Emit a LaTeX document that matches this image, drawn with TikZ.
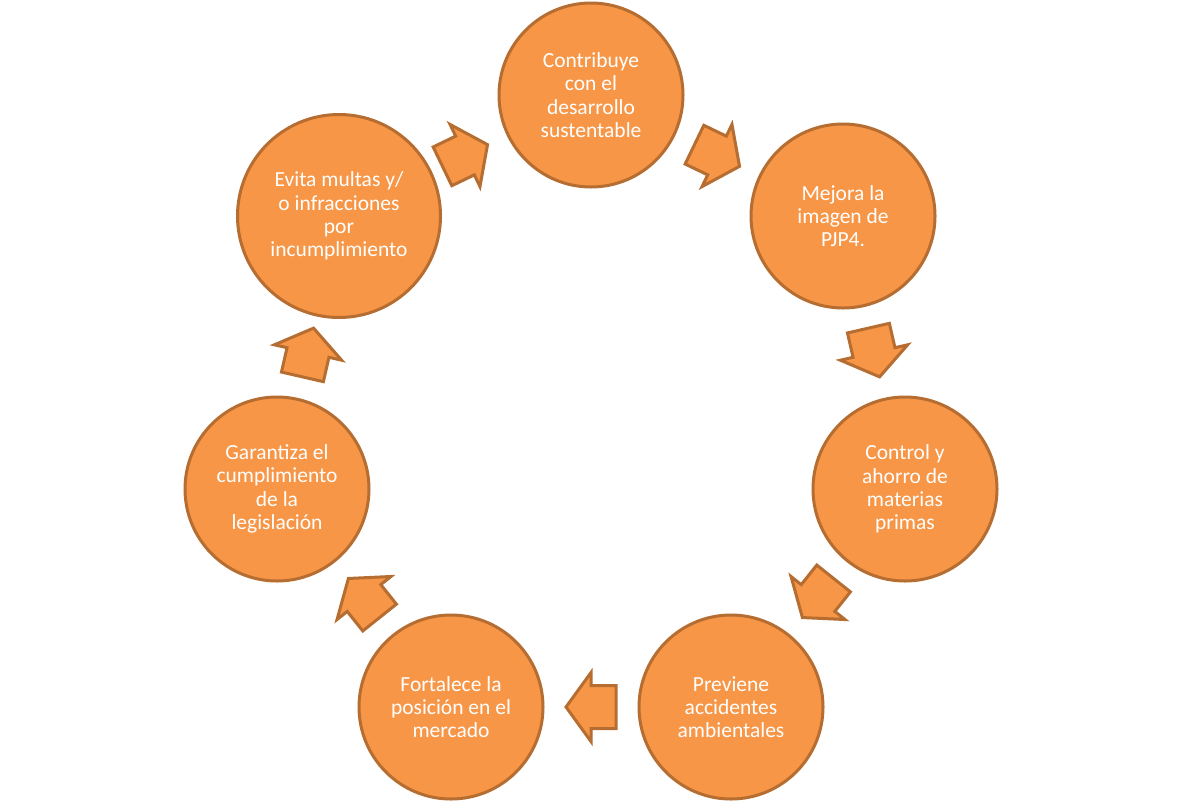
\documentclass[tikz,border=0pt]{standalone}
\usepackage{fontspec}
\setmainfont{Carlito}
\usetikzlibrary{calc}
\definecolor{orfill}{HTML}{F79646}
\definecolor{orline}{HTML}{B66D31}
\begin{document}
\begin{tikzpicture}[x=1pt,y=-1pt,
  circ/.style={circle,draw=orline,fill=orfill,line width=3pt,minimum size=184pt,
    inner sep=0pt,align=center,text=white,font=\fontsize{21.5}{23.3}\selectfont},
  blockarrow/.pic={
    \coordinate (-c) at (0,0);
    \draw[draw=orline,fill=orfill,line width=3pt,line join=miter]
      (-25,-21.5) -- (0,-21.5) -- (0,-34.5) -- (25,0) -- (0,34.5) -- (0,21.5) -- (-25,21.5) -- cycle;}]
\useasboundingbox (0,0) rectangle (1182,804);
\node[circ] (c1) at (591,95) {Contribuye\\con el\\desarrollo\\sustentable};
\node[circ] (c2) at (843,216) {Mejora la\\imagen de\\PJP4.};
\node[circ] (c3) at (905,489) {Control y\\ahorro de\\materias\\primas};
\node[circ] (c4) at (731,707) {Previene\\accidentes\\ambientales};
\node[circ] (c5) at (451,707) {Fortalece la\\posición en el\\mercado};
\node[circ] (c6) at (277,489) {Garantiza el\\cumplimiento\\de la\\legislación};
\node[circ,minimum size=203pt] (c7) at (339,216) {Evita multas y/\\o infracciones\\por\\incumplimiento};
\pic[rotate=-25.7] (a1) at ($(c1)!0.5!(c2)$) {blockarrow};
\pic[rotate=-77.1] (a2) at ($(c2)!0.5!(c3)$) {blockarrow};
\pic[rotate=-128.6] (a3) at ($(c3)!0.5!(c4)$) {blockarrow};
\pic[rotate=180] (a4) at ($(c4)!0.5!(c5)$) {blockarrow};
\pic[rotate=128.6] (a5) at ($(c5)!0.5!(c6)$) {blockarrow};
\pic[rotate=77.1] (a6) at ($(c6)!0.5!(c7)$) {blockarrow};
\pic[rotate=25.7] (a7) at ($(c7)!0.5!(c1)$) {blockarrow};
\end{tikzpicture}
\end{document}
